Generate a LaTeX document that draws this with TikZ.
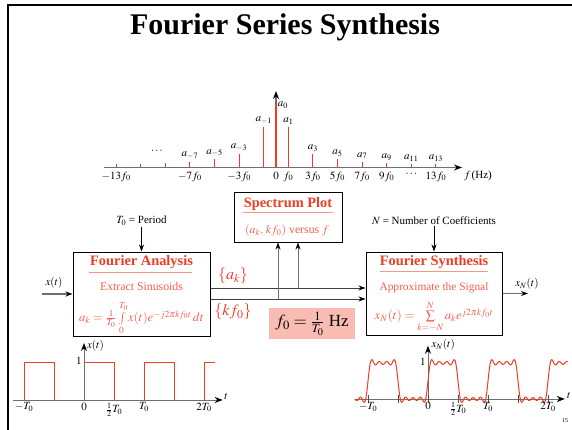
\documentclass[tikz,border=0pt]{standalone}
\usepackage{mathptmx}
\usepackage{fontspec}
\setmainfont{Liberation Serif}
\usetikzlibrary{arrows.meta}
\definecolor{myred}{RGB}{240,60,35}
\definecolor{lightred}{RGB}{245,95,75}
\definecolor{ulred}{RGB}{246,150,140}
\definecolor{pinkfill}{RGB}{248,188,178}
\definecolor{axgray}{RGB}{110,110,110}
\tikzset{
  box/.style={draw=black, line width=1pt, inner sep=0pt},
  arr/.style={draw=axgray, line width=0.9pt, -{Stealth[black,length=7pt,width=5pt]}},
  axisline/.style={draw=axgray, line width=1.3pt, -{Stealth[black,length=8pt,width=6pt]}},
  stem/.style={draw=myred, line width=1.1pt},
  lbl/.style={font=\fontsize{11}{13}\selectfont, inner sep=1pt},
  btitle/.style={font=\bfseries\fontsize{14.4}{16}\selectfont, text=myred, inner sep=1pt},
  btext/.style={font=\fontsize{11.8}{14}\selectfont, text=lightred, inner sep=1pt},
  ul/.style={draw=ulred, line width=1pt},
  tick/.style={draw=black!70, line width=0.6pt}
}
\begin{document}
\begin{tikzpicture}[x=1pt,y=-1pt]
\useasboundingbox (0,0) rectangle (572,430);
% frame
\draw[line width=2pt] (8,430) -- (8,5) -- (572,5);
% title
\node[font=\bfseries\fontsize{30}{34}\selectfont] (title) at (285,27) {Fourier Series Synthesis};

% ---------------- spectrum ----------------
\coordinate (fl) at (104,167.5);
\coordinate (fr) at (462,167.5);
\coordinate (fb) at (276,167.5);
\coordinate (ft) at (276,91);
\draw[axisline] (fl) -- (fr);
\draw[axisline] (fb) -- (ft);
\foreach \k in {-13,-11,...,13} {
  \pgfmathsetmacro{\h}{128/(pi*abs(\k))}
  \draw[stem] (276+12.3*\k,167) -- (276+12.3*\k,167.5-\h);
}
\draw[stem] (276,167) -- (276,103.5);
% coefficient labels
\node[lbl] (a0) at (283,105) {$a_0$};
\foreach \k/\t in {-1/a_{-1},1/a_1,-3/a_{-3},3/a_3,-5/a_{-5},5/a_5,-7/a_{-7},7/a_7,9/a_9,11/a_{11},13/a_{13}} {
  \pgfmathsetmacro{\h}{128/(pi*abs(\k))}
  \node[lbl, anchor=south] at (276+12.3*\k,166-\h) {$\t$};
}
\node[lbl] (dotsa) at (157,151) {$\cdots$};
% frequency tick labels
\foreach \k/\t in {-13/-13f_0,-7/-7f_0,-3/-3f_0,0/0,1/f_0,3/3f_0,5/5f_0,7/7f_0,9/9f_0,11/\cdots,13/13f_0} {
  \node[lbl, anchor=north] at (276+12.3*\k,170.5) {$\t$};
}
\node[lbl, anchor=west] (fhz) at (463,176) {$f\,$(Hz)};

% ---------------- blocks ----------------
\node[box, minimum width=108pt, minimum height=49pt] (spec) at (288,217.5) {};
\node[box, minimum width=137pt, minimum height=84pt] (ana) at (141.5,294) {};
\node[box, minimum width=136pt, minimum height=83pt] (syn) at (434,293.5) {};
\node[fill=pinkfill, minimum width=86pt, minimum height=31pt, inner sep=0pt,
      font=\fontsize{17}{19}\selectfont] (f0box) at (312,323.5) {$f_0 = \frac{1}{T_0}$ Hz};

% spectrum plot text
\node[btitle] (spect) at (288,204) {Spectrum Plot};
\draw[ul] (243,213) -- (333,213);
\node[btext, font=\fontsize{11.8}{13}\selectfont] (spectx) at (287,231) {$(a_k,\,kf_0)$ versus $f$};

% analysis text
\node[btitle] (anat) at (141.5,262) {Fourier Analysis};
\draw[ul] (89,272) -- (192,272);
\node[btext] (anatx) at (141.5,286) {Extract Sinusoids};
\node[btext, font=\fontsize{12.6}{14}\selectfont] (anaf) at (141.5,318)
  {$a_k=\frac{1}{T_0}\int\limits_0^{T_0} x(t)e^{-j2\pi k f_0 t}\,dt$};

% synthesis text
\node[btitle] (synt) at (434,262) {Fourier Synthesis};
\draw[ul] (380,271.5) -- (488,271.5);
\node[btext, font=\fontsize{11.4}{13}\selectfont] (syntx) at (434,288) {Approximate the Signal};
\node[btext, font=\fontsize{12.8}{14}\selectfont] (synf) at (434,317)
  {$x_N(t)=\sum\limits_{k=-N}^{N} a_k e^{j2\pi k f_0 t}$};

% labels above blocks
\node[lbl] (T0lab) at (141.5,221) {$T_0$ = Period};
\node[lbl] (Nlab) at (434,221) {$N$ = Number of Coefficients};
\draw[arr, draw=black, line width=0.6pt] (T0lab.south) -- (ana.north);
\draw[arr, draw=black, line width=0.6pt] (Nlab.south) -- (syn.north);

% input / output
\coordinate (xin) at (42,294);
\draw[arr, line width=1.4pt] (xin) -- (xin -| ana.west);
\node[lbl] (xinl) at (54,283) {$x(t)$};
\coordinate (xout) at (528,293.5);
\draw[arr, line width=1.4pt] (syn.east |- xout) -- (xout);
\node[lbl] (xoutl) at (527,284) {$x_N(t)$};

% links
\coordinate (lak) at (300,288);
\coordinate (lkf) at (300,299);
\draw[arr, draw=black!75, line width=0.7pt] (ana.east |- lak) -- (syn.west |- lak);
\draw[arr, draw=black!75, line width=0.7pt] (ana.east |- lkf) -- (syn.west |- lkf);
\coordinate (v1) at (278,299);
\coordinate (v2) at (298,288);
\draw[arr, line width=0.7pt] (v1) -- (v1 |- spec.south);
\draw[arr, line width=0.7pt] (v2) -- (v2 |- spec.south);
\node[text=myred, font=\fontsize{16}{18}\selectfont] (akl) at (233,276) {$\{a_k\}$};
\node[text=myred, font=\fontsize{16}{18}\selectfont] (kfl) at (233,312) {$\{kf_0\}$};

% ---------------- left time plot ----------------
\begin{scope}[shift={(84,400)}, x=60pt, y=38pt]
  \draw[myred, line width=1pt] (-1.18,0) -- (-1,0) -- (-1,1) -- (-0.5,1) -- (-0.5,0) -- (0,0) -- (0,1)
     -- (0.5,1) -- (0.5,0) -- (1,0) -- (1,1) -- (1.5,1) -- (1.5,0) -- (2,0) -- (2,1) -- (2.18,1);
  \coordinate (L0) at (-1.18,0);
  \coordinate (L1) at (2.31,0);
  \coordinate (Lb) at (0,0);
  \coordinate (Lt) at (0,1.5);
  \draw[axisline, line width=0.8pt] (L0) -- (L1);
  \draw[axisline, line width=0.8pt] (Lb) -- (Lt);
  \node[lbl, anchor=east] (L1l) at (-0.02,1.03) {$1$};
  \node[lbl, anchor=west] (Lxl) at (0.03,1.42) {$x(t)$};
  \node[lbl, anchor=west] (Ltl) at (2.32,0.1) {$t$};
  \foreach \p/\t in {-1/-T_0,0/0,0.5/\frac12 T_0,1/T_0,2/2T_0}
    \node[lbl, anchor=north] at (\p,-0.04) {$\t$};
\end{scope}

% ---------------- right time plot ----------------
\begin{scope}[shift={(428,399)}, x=60pt, y=36pt]
  \coordinate (R0) at (-1.22,0);
  \coordinate (R1) at (2.28,0);
  \coordinate (Rb) at (0,0);
  \coordinate (Rt) at (0,1.48);
  \draw[axisline, line width=0.8pt] (R0) -- (R1);
  \draw[axisline, line width=0.8pt] (Rb) -- (Rt);
  \foreach \p in {-1,-0.5,0,0.5,1,1.5,2}
    \draw[tick] (\p,-0.1) -- (\p,0.1);
  \draw[myred, line width=1pt, domain=-1.22:2.33, samples=500, smooth] plot
    (\x, {0.5+2/pi*(sin(360*\x)+sin(1080*\x)/3+sin(1800*\x)/5+sin(2520*\x)/7)});
  \node[lbl, anchor=east] (R1l) at (-0.02,1.03) {$1$};
  \node[lbl, anchor=west] (Rxl) at (0.04,1.5) {$x_N(t)$};
  \node[lbl, anchor=west] (Rtl) at (2.3,0.1) {$t$};
  \foreach \p/\t in {-1/-T_0,0/0,0.5/\frac12 T_0,1/T_0,2/2T_0}
    \node[lbl, anchor=north] at (\p,-0.06) {$\t$};
\end{scope}

\node[font=\fontsize{6}{7}\selectfont] (pg) at (565,421) {15};
\end{tikzpicture}
\end{document}
